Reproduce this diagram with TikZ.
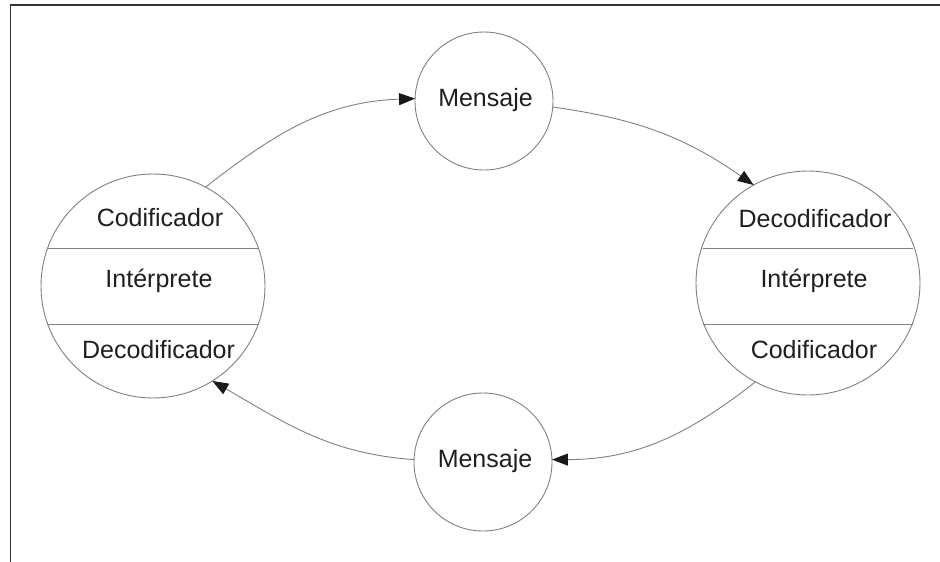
\documentclass[tikz,border=0pt]{standalone}
\usepackage{fontspec}
\setmainfont{Liberation Sans}
\usetikzlibrary{arrows.meta}
\begin{document}
\begin{tikzpicture}[x=1pt,y=-1pt,
  ring/.style={draw=black!50,line width=0.9pt,circle,inner sep=0pt,outer sep=0pt},
  lbl/.style={font=\fontsize{25}{29}\selectfont,text=black!88,inner sep=0pt},
  conn/.style={draw=black!50,line width=0.9pt,-{Triangle[length=16pt,width=12pt,color=black!90]}}]
\useasboundingbox (0,0) rectangle (940,562);
\draw[black!80,line width=1.4pt] (940,5) -- (10.5,5) -- (10.5,562);
% message circles
\node[ring,minimum size=138pt] (MT) at (484,101) {};
\node[lbl] (MTt) at (485.5,100) {Mensaje};
\node[ring,minimum size=138pt] (MB) at (483,462) {};
\node[lbl] (MBt) at (485,461) {Mensaje};
% left agent
\node[ring,minimum size=224pt] (L) at (153,286) {};
\draw[black!50,line width=0.9pt] (47.6,248) -- (258.4,248);
\draw[black!50,line width=0.9pt] (47.6,324) -- (258.4,324);
\node[lbl] (L1) at (160,218) {Codificador};
\node[lbl] (L2) at (159,281) {Intérprete};
\node[lbl] (L3) at (158.5,350) {Decodificador};
% right agent
\node[ring,minimum size=224pt] (R) at (808,283) {};
\draw[black!50,line width=0.9pt] (702.6,248) -- (913.4,248);
\draw[black!50,line width=0.9pt] (702.6,324) -- (913.4,324);
\node[lbl] (R1) at (815,219) {Decodificador};
\node[lbl] (R2) at (814,281) {Intérprete};
\node[lbl] (R3) at (814,350) {Codificador};
% connectors
\draw[conn] (L.62) to[out=38,in=182] (MT.178);
\draw[conn] (MT.-5) to[out=-8,in=145] (R.119);
\draw[conn] (R.242) to[out=218,in=0] (MB.2);
\draw[conn] (MB.178) to[out=176,in=-30] (L.-58);
\end{tikzpicture}
\end{document}
